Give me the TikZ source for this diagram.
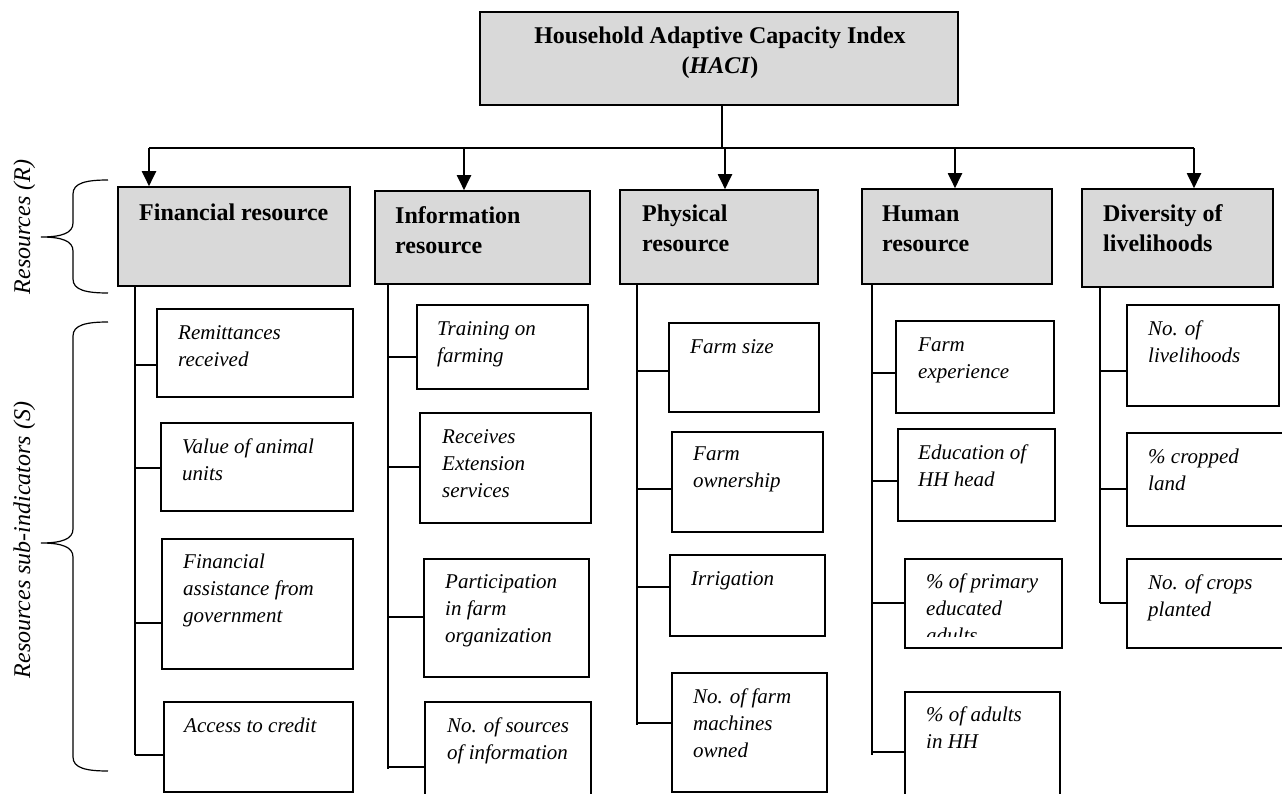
\documentclass[tikz,border=0pt]{standalone}
\usepackage{fontspec}
\setmainfont{Liberation Serif}
\usetikzlibrary{arrows.meta,fit}
\definecolor{boxgray}{HTML}{D9D9D9}
\newcommand\mlt[1]{\begin{tabular}[t]{@{}l@{}}#1\end{tabular}}
\newcommand\mlc[1]{\begin{tabular}[t]{@{}c@{}}#1\end{tabular}}
\newcommand\drawbrace[3]{\draw[brc] (108,#1) .. controls (86,#1) and (73,{#1+3}) .. (73,{#1+14}) -- (73,{#2-14}) .. controls (73,{#2-4}) and (62,#2) .. (41,#2) .. controls (62,#2) and (73,{#2+4}) .. (73,{#2+14}) -- (73,{#3-14}) .. controls (73,{#3-3}) and (86,#3) .. (108,#3);}
\begin{document}
\begin{tikzpicture}[x=1pt,y=-1pt,
  rbox/.style={draw, line width=1.6pt, fill=boxgray, inner sep=0pt},
  sbox/.style={draw, line width=1.6pt, fill=white, inner sep=0pt},
  btxt/.style={inner sep=0pt, anchor=base west, font=\fontsize{24}{30}\selectfont\bfseries},
  itxt/.style={inner sep=0pt, anchor=base west, font=\fontsize{21}{27}\selectfont\itshape},
  lbl/.style={inner sep=0pt, rotate=90, anchor=base, font=\fontsize{24}{28}\selectfont\itshape},
  conn/.style={line width=1.6pt},
  bus/.style={line width=2pt},
  arr/.style={line width=2pt, -{Triangle[width=14pt,length=15pt]}},
  brc/.style={line width=1.2pt}]
\useasboundingbox (0,0) rectangle (1282,794);
\clip (0,0) rectangle (1282,794);

% top box
\node[rbox, fit={(480,12) (958,105)}] (top) {};
\node[btxt, anchor=base] (topt) at (720,44) {\mlc{Household Adaptive Capacity Index\\(\textit{HACI})}};

% resource boxes
\node[rbox, fit={(118,187) (350,286)}] (fin) {};
\node[rbox, fit={(375,191) (590,284)}] (inf) {};
\node[rbox, fit={(620,190) (818,284)}] (phy) {};
\node[rbox, fit={(862,189) (1052,284)}] (hum) {};
\node[rbox, fit={(1082,189) (1273,287)}] (div) {};
\node[btxt] (fint) at (139,221) {Financial resource};
\node[btxt] (inft) at (395,224) {\mlt{Information\\resource}};
\node[btxt] (phyt) at (642,222) {\mlt{Physical\\resource}};
\node[btxt] (humt) at (882,222) {\mlt{Human\\resource}};
\node[btxt] (divt) at (1103,222) {\mlt{Diversity of\\livelihoods}};

% bus and arrows
\coordinate (j) at (722,148);
\coordinate (b1) at (149,148);
\coordinate (b2) at (464,148);
\coordinate (b3) at (725,148);
\coordinate (b4) at (955,148);
\coordinate (b5) at (1194,148);
\draw[bus] (top.south -| j) -- (j);
\draw[bus] (b1) -- (b5);
\draw[arr] (b1) -- (fin.north -| b1);
\draw[arr] (b2) -- (inf.north -| b2);
\draw[arr] (b3) -- (phy.north -| b3);
\draw[arr] (b4) -- (hum.north -| b4);
\draw[arr] (b5) -- (div.north -| b5);

% side labels and braces
\node[lbl] (labR) at (30,227) {Resources (R)};
\node[lbl] (labS) at (30,540) {Resources sub-indicators (S)};
\drawbrace{180}{237}{293}
\drawbrace{322}{543}{771}

% Financial column
\node[sbox, fit={(157,309) (353,397)}] (f1) {};
\node[sbox, fit={(161,423) (353,511)}] (f2) {};
\node[sbox, fit={(162,539) (353,669)}] (f3) {};
\node[sbox, fit={(164,702) (353,792)}] (f4) {};
\node[itxt] (f1t) at (178,339) {\mlt{Remittances\\received}};
\node[itxt] (f2t) at (182,453) {\mlt{Value of animal\\units}};
\node[itxt] (f3t) at (183,568) {\mlt{Financial\\assistance from\\government}};
\node[itxt] (f4t) at (184,732) {Access to credit};
\coordinate (fS) at (135,755);
\draw[conn] (fin.south -| fS) -- (fS);
\draw[conn] (fS |- 0,365) -- (f1.west |- 0,365);
\draw[conn] (fS |- 0,468) -- (f2.west |- 0,468);
\draw[conn] (fS |- 0,623) -- (f3.west |- 0,623);
\draw[conn] (fS) -- (f4.west |- fS);

% Information column
\node[sbox, fit={(417,305) (588,389)}] (i1) {};
\node[sbox, fit={(420,413) (591,523)}] (i2) {};
\node[sbox, fit={(424,559) (589,677)}] (i3) {};
\node[sbox, fit={(425,702) (591,830)}] (i4) {};
\node[itxt] (i1t) at (437,335) {\mlt{Training on\\farming}};
\node[itxt] (i2t) at (442,443) {\mlt{Receives\\Extension\\services}};
\node[itxt] (i3t) at (445,588) {\mlt{Participation\\in farm\\organization}};
\node[itxt] (i4t) at (447,732) {\mlt{No. of sources\\of information}};
\coordinate (iS) at (388,769);
\draw[conn] (inf.south -| iS) -- (iS);
\draw[conn] (iS |- 0,357) -- (i1.west |- 0,357);
\draw[conn] (iS |- 0,467) -- (i2.west |- 0,467);
\draw[conn] (iS |- 0,617) -- (i3.west |- 0,617);
\draw[conn] (iS |- 0,767) -- (i4.west |- 0,767);

% Physical column
\node[sbox, fit={(669,323) (819,412)}] (p1) {};
\node[sbox, fit={(672,432) (823,532)}] (p2) {};
\node[sbox, fit={(670,555) (825,636)}] (p3) {};
\node[sbox, fit={(672,673) (827,792)}] (p4) {};
\node[itxt] (p1t) at (690,353) {Farm size};
\node[itxt] (p2t) at (693,460) {\mlt{Farm\\ownership}};
\node[itxt] (p3t) at (691,585) {Irrigation};
\node[itxt] (p4t) at (693,703) {\mlt{No. of farm\\machines\\owned}};
\coordinate (pS) at (637,725);
\draw[conn] (phy.south -| pS) -- (pS);
\draw[conn] (pS |- 0,371) -- (p1.west |- 0,371);
\draw[conn] (pS |- 0,489) -- (p2.west |- 0,489);
\draw[conn] (pS |- 0,587) -- (p3.west |- 0,587);
\draw[conn] (pS |- 0,723) -- (p4.west |- 0,723);

% Human column
\node[sbox, fit={(896,321) (1054,413)}] (h1) {};
\node[sbox, fit={(898,429) (1055,521)}] (h2) {};
\node[sbox, fit={(905,559) (1062,648)}] (h3) {};
\node[sbox, fit={(905,692) (1060,830)}] (h4) {};
\node[itxt] (h1t) at (918,351) {\mlt{Farm\\experience}};
\node[itxt] (h2t) at (918,459) {\mlt{Education of\\HH head}};
\begin{scope}
\clip (900,550) rectangle (1065,636);
\node[itxt] (h3t) at (926,588) {\mlt{\% of primary\\educated\\adults}};
\end{scope}
\node[itxt] (h4t) at (926,721) {\mlt{\% of adults\\in HH}};
\coordinate (hS) at (872,755);
\draw[conn] (hum.south -| hS) -- (hS);
\draw[conn] (hS |- 0,373) -- (h1.west |- 0,373);
\draw[conn] (hS |- 0,481) -- (h2.west |- 0,481);
\draw[conn] (hS |- 0,603) -- (h3.west |- 0,603);
\draw[conn] (hS |- 0,752) -- (h4.west |- 0,752);

% Diversity column
\node[sbox, fit={(1127,305) (1279,406)}] (d1) {};
\node[sbox, fit={(1127,433) (1300,526)}] (d2) {};
\node[sbox, fit={(1127,559) (1300,648)}] (d3) {};
\node[itxt] (d1t) at (1148,335) {\mlt{No. of\\livelihoods}};
\node[itxt] (d2t) at (1148,463) {\mlt{\% cropped\\land}};
\node[itxt] (d3t) at (1148,589) {\mlt{No. of crops\\planted}};
\coordinate (dS) at (1100,603);
\draw[conn] (div.south -| dS) -- (dS);
\draw[conn] (dS |- 0,371) -- (d1.west |- 0,371);
\draw[conn] (dS |- 0,489) -- (d2.west |- 0,489);
\draw[conn] (dS) -- (d3.west |- dS);
\end{tikzpicture}
\end{document}
